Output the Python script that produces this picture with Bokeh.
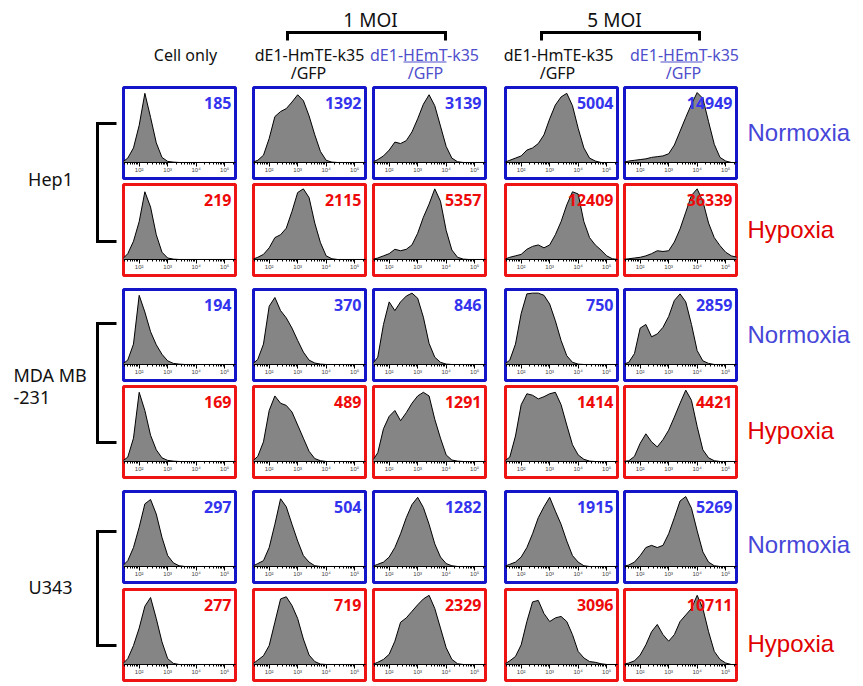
import math
from bokeh.plotting import figure
from bokeh.models import LinearAxis, FixedTicker, Spacer, ColumnDataSource, Range1d
from bokeh.layouts import row, column
from bokeh.core.properties import value
from bokeh.embed import file_html
from bokeh.resources import INLINE

# ---------------- data ----------------
# fluorescence channel, log10 units
LOG_X = [1.4, 1.6, 1.8, 2.0, 2.2, 2.4, 2.6, 2.8, 3.0, 3.2, 3.4,
         3.6, 3.8, 4.0, 4.2, 4.4, 4.6, 4.8, 5.0, 5.2, 5.4]

COLUMN_LABELS = ["Cell only", "dE1-HmTE-k35", "dE1-HEmT-k35", "dE1-HmTE-k35", "dE1-HEmT-k35"]
COLUMN_SUBLABELS = ["", "/GFP", "/GFP", "/GFP", "/GFP"]
MOI_LABELS = ["1 MOI", "5 MOI"]
CELL_LINES = ["Hep1", "MDA MB\n-231", "U343"]
CONDITIONS = ["Normoxia", "Hypoxia"]

# normalised histogram heights (one list per panel, columns left -> right)
HEP1_NORMOXIA = [
    [0, 0.06, 0.2, 0.51, 0.95, 0.62, 0.27, 0.07, 0.015, 0.005, 0, 0, 0, 0, 0, 0, 0, 0, 0, 0, 0],
    [0, 0.03, 0.1, 0.33, 0.63, 0.7, 0.74, 0.83, 0.93, 0.85, 0.64, 0.38, 0.15, 0.03, 0.005, 0, 0, 0, 0, 0, 0],
    [0, 0.04, 0.09, 0.17, 0.28, 0.26, 0.3, 0.42, 0.6, 0.8, 0.93, 0.78, 0.5, 0.22, 0.06, 0.01, 0, 0, 0, 0, 0],
    [0, 0.03, 0.06, 0.09, 0.17, 0.2, 0.26, 0.38, 0.6, 0.79, 0.9, 0.95, 0.78, 0.47, 0.2, 0.06, 0.02, 0, 0, 0, 0],
    [0, 0.02, 0.03, 0.04, 0.05, 0.07, 0.08, 0.09, 0.12, 0.24, 0.43, 0.62, 0.8, 0.96, 0.88, 0.56, 0.25, 0.07, 0.02, 0, 0],
]
HEP1_HYPOXIA = [
    [0, 0.08, 0.25, 0.52, 0.93, 0.72, 0.34, 0.1, 0.02, 0.005, 0, 0, 0, 0, 0, 0, 0, 0, 0, 0, 0],
    [0, 0.03, 0.07, 0.16, 0.3, 0.34, 0.43, 0.66, 0.92, 0.97, 0.85, 0.5, 0.23, 0.05, 0.01, 0, 0, 0, 0, 0, 0],
    [0, 0.02, 0.05, 0.08, 0.14, 0.12, 0.14, 0.2, 0.36, 0.58, 0.76, 0.97, 0.8, 0.4, 0.13, 0.03, 0.005, 0, 0, 0, 0],
    [0, 0.03, 0.05, 0.07, 0.14, 0.18, 0.2, 0.16, 0.2, 0.34, 0.52, 0.75, 0.93, 0.9, 0.52, 0.3, 0.2, 0.13, 0.05, 0.01, 0],
    [0, 0.01, 0.02, 0.03, 0.05, 0.08, 0.12, 0.11, 0.12, 0.24, 0.42, 0.65, 0.88, 0.97, 0.8, 0.5, 0.3, 0.19, 0.1, 0.05, 0.03],
]
MDA_NORMOXIA = [
    [0, 0.06, 0.28, 0.95, 0.72, 0.45, 0.27, 0.14, 0.05, 0.015, 0.005, 0, 0, 0, 0, 0, 0, 0, 0, 0, 0],
    [0, 0.07, 0.28, 0.8, 0.92, 0.74, 0.64, 0.5, 0.33, 0.17, 0.06, 0.02, 0.005, 0, 0, 0, 0, 0, 0, 0, 0],
    [0, 0.1, 0.55, 0.86, 0.74, 0.86, 0.94, 0.98, 0.91, 0.65, 0.29, 0.1, 0.03, 0.005, 0, 0, 0, 0, 0, 0, 0],
    [0, 0.06, 0.28, 0.7, 0.97, 0.98, 0.98, 0.95, 0.83, 0.6, 0.33, 0.12, 0.03, 0.005, 0, 0, 0, 0, 0, 0, 0],
    [0, 0.03, 0.15, 0.5, 0.55, 0.38, 0.42, 0.51, 0.66, 0.88, 0.97, 0.86, 0.55, 0.19, 0.05, 0.015, 0, 0, 0, 0, 0],
]
MDA_HYPOXIA = [
    [0, 0.06, 0.32, 0.95, 0.7, 0.36, 0.16, 0.05, 0.015, 0.005, 0, 0, 0, 0, 0, 0, 0, 0, 0, 0, 0],
    [0, 0.07, 0.27, 0.7, 0.9, 0.8, 0.77, 0.68, 0.5, 0.32, 0.14, 0.04, 0.01, 0, 0, 0, 0, 0, 0, 0, 0],
    [0, 0.12, 0.45, 0.62, 0.7, 0.56, 0.67, 0.8, 0.9, 0.95, 0.9, 0.58, 0.32, 0.09, 0.02, 0.005, 0, 0, 0, 0, 0],
    [0, 0.06, 0.35, 0.78, 0.93, 0.91, 0.86, 0.89, 0.93, 0.95, 0.78, 0.5, 0.23, 0.09, 0.03, 0.005, 0, 0, 0, 0, 0],
    [0, 0.01, 0.07, 0.25, 0.38, 0.27, 0.2, 0.3, 0.43, 0.61, 0.8, 0.98, 0.84, 0.48, 0.16, 0.05, 0.01, 0, 0, 0, 0],
]
U343_NORMOXIA = [
    [0, 0.08, 0.26, 0.54, 0.86, 0.92, 0.72, 0.4, 0.15, 0.05, 0.01, 0, 0, 0, 0, 0, 0, 0, 0, 0, 0],
    [0, 0.04, 0.08, 0.26, 0.58, 0.93, 0.82, 0.58, 0.35, 0.15, 0.06, 0.01, 0, 0, 0, 0, 0, 0, 0, 0, 0],
    [0, 0.03, 0.06, 0.13, 0.26, 0.45, 0.67, 0.85, 0.95, 0.81, 0.58, 0.31, 0.13, 0.04, 0.01, 0, 0, 0, 0, 0, 0],
    [0, 0.03, 0.06, 0.13, 0.26, 0.45, 0.67, 0.82, 0.95, 0.76, 0.58, 0.35, 0.15, 0.06, 0.01, 0, 0, 0, 0, 0, 0],
    [0, 0.02, 0.06, 0.15, 0.26, 0.29, 0.26, 0.29, 0.45, 0.67, 0.9, 0.96, 0.8, 0.49, 0.2, 0.06, 0.01, 0, 0, 0, 0],
]
U343_HYPOXIA = [
    [0, 0.08, 0.26, 0.5, 0.8, 0.92, 0.63, 0.31, 0.08, 0.015, 0, 0, 0, 0, 0, 0, 0, 0, 0, 0, 0],
    [0, 0.06, 0.12, 0.26, 0.58, 0.9, 0.93, 0.81, 0.63, 0.35, 0.13, 0.04, 0.005, 0, 0, 0, 0, 0, 0, 0, 0],
    [0, 0.03, 0.07, 0.14, 0.32, 0.58, 0.64, 0.73, 0.82, 0.9, 0.95, 0.77, 0.5, 0.23, 0.07, 0.01, 0, 0, 0, 0, 0],
    [0, 0.05, 0.11, 0.27, 0.59, 0.86, 0.88, 0.7, 0.59, 0.64, 0.66, 0.59, 0.41, 0.18, 0.09, 0.04, 0.03, 0.01, 0, 0, 0],
    [0, 0.02, 0.05, 0.13, 0.27, 0.45, 0.55, 0.41, 0.32, 0.41, 0.59, 0.68, 0.77, 0.95, 0.77, 0.45, 0.18, 0.07, 0.02, 0, 0],
]

# mean fluorescence values printed in each panel
HEP1_NORMOXIA_MFI = [185, 1392, 3139, 5004, 14949]
HEP1_HYPOXIA_MFI = [219, 2115, 5357, 12409, 36339]
MDA_NORMOXIA_MFI = [194, 370, 846, 750, 2859]
MDA_HYPOXIA_MFI = [169, 489, 1291, 1414, 4421]
U343_NORMOXIA_MFI = [297, 504, 1282, 1915, 5269]
U343_HYPOXIA_MFI = [277, 719, 2329, 3096, 10711]

MAJOR_TICKS = [2, 3, 4, 5]
TICK_LABELS = {2: "10²", 3: "10³", 4: "10⁴", 5: "10⁵"}

# ---------------- styling ----------------
BLUE_BOX, RED_BOX = "#1414c8", "#ee1414"
BLUE_NUM, RED_NUM = "#3434ee", "#ee0a0a"
BLUE_TXT = "#4f4fcc"
FONT = "Noto Sans"

X0, X1 = 1.45, 5.38
Y0, Y1 = -0.22, 1.03
PANEL_W, PANEL_H = 116, 95
COL_GAPS = [14, 4, 16, 3]
ROW_GAPS = [2, 10, 2, 10, 3]

minor = []
for d in range(1, 6):
    for k in range(2, 10):
        t = d + math.log10(k)
        if X0 < t < X1:
            minor.append(t)


def panel(values, mfi, box_colour, num_colour):
    p = figure(width=PANEL_W, height=PANEL_H, x_range=Range1d(X0, X1), y_range=Range1d(Y0, Y1),
               output_backend="svg", toolbar_location=None,
               x_axis_location=None, y_axis_location=None, min_border=2)
    p.min_border_left = p.min_border_right = p.min_border_top = p.min_border_bottom = 2
    p.xgrid.visible = False
    p.ygrid.visible = False
    p.outline_line_color = box_colour
    p.outline_line_width = 3
    p.outline_line_alpha = 1.0
    p.background_fill_color = "white"
    p.border_fill_color = "white"
    src = ColumnDataSource(dict(x=LOG_X, y=values))
    p.varea(x="x", y1=0, y2="y", source=src, fill_color="#858585")
    p.line(x="x", y="y", source=src, line_color="black", line_width=1)
    ax = LinearAxis(fixed_location=0,
                    ticker=FixedTicker(ticks=MAJOR_TICKS, minor_ticks=minor),
                    major_label_overrides=TICK_LABELS)
    ax.major_label_text_font_size = "6px"
    ax.major_label_text_color = "#444444"
    ax.major_label_standoff = 1
    ax.major_tick_in = 0
    ax.major_tick_out = 4
    ax.minor_tick_in = 0
    ax.minor_tick_out = 2
    ax.axis_line_color = "black"
    ax.major_tick_line_color = "black"
    ax.minor_tick_line_color = "black"
    p.add_layout(ax, "below")
    p.text(x=[X1 - 0.14], y=[Y1 - 0.21], text=[str(mfi)], text_align="right",
           text_baseline="middle", text_font=value(FONT), text_font_style="bold",
           text_font_size="16px", text_color=num_colour)
    return p


ROWS = [
    (HEP1_NORMOXIA, HEP1_NORMOXIA_MFI, BLUE_BOX, BLUE_NUM),
    (HEP1_HYPOXIA, HEP1_HYPOXIA_MFI, RED_BOX, RED_NUM),
    (MDA_NORMOXIA, MDA_NORMOXIA_MFI, BLUE_BOX, BLUE_NUM),
    (MDA_HYPOXIA, MDA_HYPOXIA_MFI, RED_BOX, RED_NUM),
    (U343_NORMOXIA, U343_NORMOXIA_MFI, BLUE_BOX, BLUE_NUM),
    (U343_HYPOXIA, U343_HYPOXIA_MFI, RED_BOX, RED_NUM),
]

grid_children = []
for ri, (hists, mfis, bc, nc) in enumerate(ROWS):
    kids = []
    for ci in range(5):
        kids.append(panel(hists[ci], mfis[ci], bc, nc))
        if ci < 4:
            kids.append(Spacer(width=COL_GAPS[ci], height=PANEL_H))
    grid_children.append(row(children=kids, spacing=0))
    if ri < 5:
        grid_children.append(Spacer(width=10, height=ROW_GAPS[ri]))
grid = column(children=grid_children, spacing=0)


def blank(w, h, xr, yr):
    f = figure(width=w, height=h, x_range=Range1d(*xr), y_range=Range1d(*yr),
               output_backend="svg", toolbar_location=None,
               x_axis_location=None, y_axis_location=None, min_border=0)
    f.min_border_left = f.min_border_right = f.min_border_top = f.min_border_bottom = 0
    f.xgrid.visible = False
    f.ygrid.visible = False
    f.outline_line_color = None
    f.background_fill_color = "white"
    f.border_fill_color = "white"
    return f


# ---------------- header ----------------
head = blank(855, 85, (0, 855), (85, 0))
col_cx = [185, 309, 424, 558, 684]
sub_cx = [185, 308, 425, 557, 683]
col_colours = ["#111111", "#111111", BLUE_TXT, "#111111", BLUE_TXT]
head.text(x=col_cx, y=[54] * 5, text=COLUMN_LABELS, text_align="center", text_baseline="middle",
          text_font=value(FONT), text_font_size="16px", text_color=col_colours)
head.text(x=sub_cx[1:], y=[72] * 4, text=COLUMN_SUBLABELS[1:], text_align="center", text_baseline="middle",
          text_font=value(FONT), text_font_size="16px", text_color=col_colours[1:])
head.segment(x0=[403, 660], y0=[61.5, 61.5], x1=[446, 702], y1=[61.5, 61.5], line_color=BLUE_TXT, line_width=1)
head.text(x=[370, 614], y=[19, 19], text=MOI_LABELS, text_align="center", text_baseline="middle",
          text_font=value(FONT), text_font_size="19px", text_color="#111111")
head.multi_line(xs=[[287, 287, 445, 445], [541, 541, 699, 699]], ys=[[40, 32, 32, 40], [40, 32, 32, 40]],
                line_color="black", line_width=3, line_join="miter")

# ---------------- left labels ----------------
left = blank(121, 598, (0, 121), (683, 85))
left.text(x=[50, 50], y=[178, 586], text=[CELL_LINES[0], CELL_LINES[2]], text_align="center",
          text_baseline="middle", text_font=value(FONT), text_font_size="18px", text_color="#111111")
left.text(x=[13, 13], y=[374, 397], text=CELL_LINES[1].split("\n"), text_align="left",
          text_baseline="middle", text_font=value(FONT), text_font_size="18px", text_color="#111111")
left.multi_line(xs=[[116, 97, 97, 116]] * 3,
                ys=[[123, 123, 241, 241], [323, 323, 442, 442], [531, 531, 645, 645]],
                line_color="black", line_width=3, line_join="miter")

# ---------------- right labels ----------------
right = blank(117, 598, (738, 855), (683, 85))
right.text(x=[747] * 6, y=[132, 229, 334, 430, 544, 643],
           text=[CONDITIONS[0], CONDITIONS[1]] * 3, text_align="left", text_baseline="middle",
           text_font=value("Liberation Sans"), text_font_size="24px",
           text_color=["#4646d8", "#e00000"] * 3)

layout = column(children=[head, row(children=[left, grid, right], spacing=0)], spacing=0)

open("out.html", "w").write(file_html(layout, INLINE))
